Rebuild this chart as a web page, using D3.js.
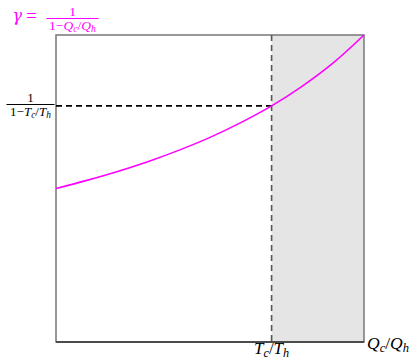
<!DOCTYPE html>
<html>
<head>
<meta charset="utf-8">
<script src="https://cdn.jsdelivr.net/npm/d3@7"></script>
<style>
  html, body { margin: 0; padding: 0; background: #fff; }
  svg { display: block; }
  .math { font-family: "Liberation Serif", "DejaVu Serif", serif; }
</style>
</head>
<body>
<svg id="chart" width="417" height="361"></svg>
<script>
// Efficiency-style curve: gamma = 1 / (1 - Qc/Qh)
const ratioValues = [0, 0.05, 0.10, 0.15, 0.20, 0.25, 0.30, 0.35, 0.40, 0.45, 0.50];
const gammaValues = [1.000, 1.053, 1.111, 1.176, 1.250, 1.333, 1.429, 1.538, 1.667, 1.818, 2.000];
const xDomain = [0, 0.5];
const yDomain = [0, 2];
const tempRatio = 0.35;    // Tc/Th
const gammaAtTemp = 1.538; // 1/(1 - Tc/Th)

const svg = d3.select("#chart");
const plot = { left: 56, right: 364, top: 35, bottom: 342 };

const x = d3.scaleLinear().domain(xDomain).range([plot.left, plot.right]);
const y = d3.scaleLinear().domain(yDomain).range([plot.bottom, plot.top]);

// shaded region beyond Tc/Th
svg.append("rect")
  .attr("x", x(tempRatio)).attr("y", y(yDomain[1]))
  .attr("width", x(xDomain[1]) - x(tempRatio))
  .attr("height", y(yDomain[0]) - y(yDomain[1]))
  .attr("fill", "#e5e5e5");

// frame
svg.append("rect")
  .attr("x", x(xDomain[0])).attr("y", y(yDomain[1]))
  .attr("width", x(xDomain[1]) - x(xDomain[0]))
  .attr("height", y(yDomain[0]) - y(yDomain[1]))
  .attr("fill", "none").attr("stroke", "#777").attr("stroke-width", 1.5);

// x axis baseline
svg.append("line")
  .attr("x1", x(xDomain[0])).attr("x2", x(xDomain[1]))
  .attr("y1", y(yDomain[0])).attr("y2", y(yDomain[0]))
  .attr("stroke", "#333").attr("stroke-width", 1.5);

// dashed guides
svg.append("line")
  .attr("x1", x(tempRatio)).attr("x2", x(tempRatio))
  .attr("y1", y(yDomain[1])).attr("y2", y(yDomain[0]))
  .attr("stroke", "#555").attr("stroke-width", 1.6)
  .attr("stroke-dasharray", "6,4");
svg.append("line")
  .attr("x1", x(xDomain[0])).attr("x2", x(tempRatio))
  .attr("y1", y(gammaAtTemp)).attr("y2", y(gammaAtTemp))
  .attr("stroke", "#000").attr("stroke-width", 1.6)
  .attr("stroke-dasharray", "6,4");

// curve
const pts = ratioValues.map((r, i) => [r, gammaValues[i]]);
svg.append("path")
  .datum(pts)
  .attr("fill", "none")
  .attr("stroke", "#ff00ff")
  .attr("stroke-width", 1.6)
  .attr("d", d3.line().x(d => x(d[0])).y(d => y(d[1])).curve(d3.curveCatmullRom));

// helper for a ratio label "A_a/B_b"
function ratioText(sel, a, as, b, bs, size) {
  const sub = size * 0.18;
  sel.append("tspan").attr("font-style", "italic").text(a);
  sel.append("tspan").attr("font-style", "italic").attr("font-size", size * 0.72).attr("dy", sub).text(as);
  sel.append("tspan").attr("dy", -sub).text("/");
  sel.append("tspan").attr("font-style", "italic").text(b);
  sel.append("tspan").attr("font-style", "italic").attr("font-size", size * 0.72).attr("dy", sub).text(bs);
}

// x tick labels
const tLab = svg.append("text").attr("class", "math")
  .attr("x", x(tempRatio)).attr("y", 354)
  .attr("text-anchor", "middle").attr("font-size", 17).attr("fill", "#000");
ratioText(tLab, "T", "c", "T", "h", 17);

const qLab = svg.append("text").attr("class", "math")
  .attr("x", 367).attr("y", 349)
  .attr("font-size", 17.5).attr("fill", "#000");
ratioText(qLab, "Q", "c", "Q", "h", 17.5);

// fraction label: 1 / (1 - A_c/B_h)
function fraction(cx, cy, a, b, color, w, size) {
  const g = svg.append("g").attr("fill", color);
  g.append("text").attr("class", "math")
    .attr("x", cx).attr("y", cy - 2.5)
    .attr("text-anchor", "middle").attr("font-size", size).text("1");
  g.append("line")
    .attr("x1", cx - w / 2).attr("x2", cx + w / 2)
    .attr("y1", cy).attr("y2", cy)
    .attr("stroke", color).attr("stroke-width", 1);
  const d = g.append("text").attr("class", "math")
    .attr("x", cx).attr("y", cy + size * 0.85)
    .attr("text-anchor", "middle").attr("font-size", size);
  d.append("tspan").text("1\u2212");
  ratioText(d, a, "c", b, "h", size);
  return g;
}

// y guide label
fraction(30.5, 104.5, "T", "T", "#000", 48, 13);

// title formula
svg.append("text")
  .attr("x", 12.5).attr("y", 21)
  .attr("font-family", "DejaVu Serif")
  .attr("font-size", 16).attr("fill", "#ff00ff")
  .attr("font-style", "italic").text("\u03b3");
svg.append("text").attr("class", "math")
  .attr("x", 26).attr("y", 22)
  .attr("font-size", 19).attr("fill", "#ff00ff").text("=");
fraction(72.5, 18.5, "Q", "Q", "#ff00ff", 52, 13.5);
</script>
</body>
</html>
